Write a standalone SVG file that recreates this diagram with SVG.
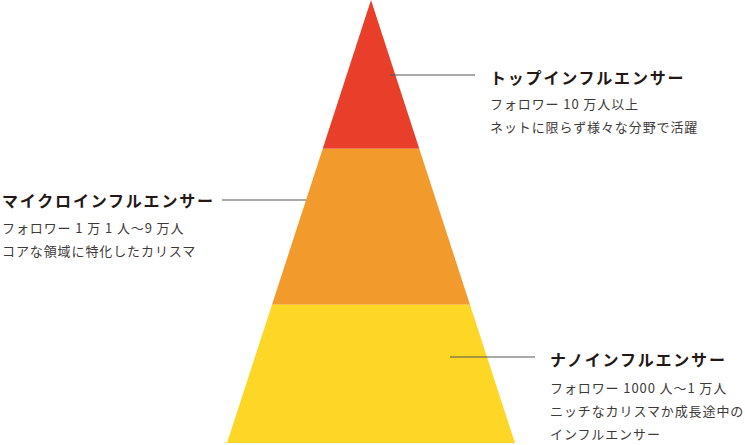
<svg xmlns="http://www.w3.org/2000/svg" width="745" height="445" viewBox="0 0 745 445">
<style>
.t{font-family:"Noto Sans CJK JP","Noto Sans",sans-serif;font-size:16px;font-weight:700;fill:#231815;letter-spacing:1.8px}
.s{font-family:"Noto Sans CJK JP","Noto Sans",sans-serif;font-size:13px;font-weight:400;fill:#3e3a39;letter-spacing:0.9px}
.ln{stroke:#555;stroke-width:1;fill:none}
</style>
<rect width="745" height="445" fill="#fff"/>
<g id="pyramid">
<polygon id="tier-top" points="371,0 419.3,148.7 322.7,148.7" fill="#E93E2A"/>
<polygon id="tier-mid" points="322.7,148.7 419.3,148.7 470,304.7 272,304.7" fill="#F39A2D"/>
<polygon id="tier-bottom" points="272,304.7 470,304.7 515,443 227,443" fill="#FED625"/>
</g>
<g id="connectors">
<line class="ln" x1="390" y1="75" x2="475" y2="75"/>
<line class="ln" x1="222" y1="200" x2="306" y2="200" stroke="#777"/>
<line class="ln" x1="450" y1="357" x2="535" y2="357"/>
</g>
<g id="label-top">
<text class="t" x="490" y="84">トップインフルエンサー</text>
<text class="s" x="490" y="109">フォロワー 10 万人以上</text>
<text class="s" x="490" y="132">ネットに限らず様々な分野で活躍</text>
</g>
<g id="label-mid">
<text class="t" x="2" y="207">マイクロインフルエンサー</text>
<text class="s" x="2" y="233">フォロワー 1 万 1 人〜9 万人</text>
<text class="s" x="2" y="256">コアな領域に特化したカリスマ</text>
</g>
<g id="label-bottom">
<text class="t" x="550" y="366">ナノインフルエンサー</text>
<text class="s" x="550" y="393">フォロワー 1000 人〜1 万人</text>
<text class="s" x="550" y="416">ニッチなカリスマか成長途中の</text>
<text class="s" x="550" y="439">インフルエンサー</text>
</g>
</svg>
